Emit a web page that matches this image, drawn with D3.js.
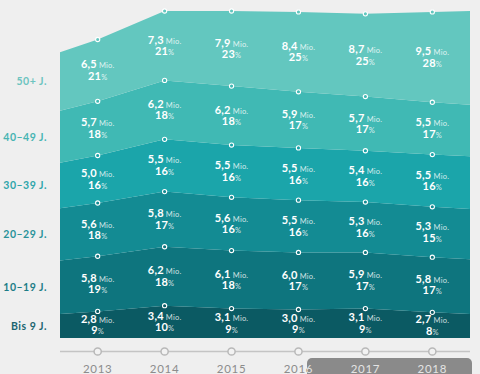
<!DOCTYPE html>
<html><head><meta charset="utf-8">
<script src="https://cdn.jsdelivr.net/npm/d3@7/dist/d3.min.js"></script>
<style>
html,body{margin:0;padding:0;background:#efefef;}
svg{display:block;font-family:Lato,"Open Sans",sans-serif;}
</style></head>
<body>
<svg id="c" width="480" height="374"></svg>
<script>
const years = [2013, 2014, 2015, 2016, 2017, 2018];
const groups = ["Bis 9 J.", "10–19 J.", "20–29 J.", "30–39 J.", "40–49 J.", "50+ J."];
const mioBis9 = [2.8, 3.4, 3.1, 3.0, 3.1, 2.7];
const mio10 = [5.8, 6.2, 6.1, 6.0, 5.9, 5.8];
const mio20 = [5.6, 5.8, 5.6, 5.5, 5.3, 5.3];
const mio30 = [5.0, 5.5, 5.5, 5.5, 5.4, 5.5];
const mio40 = [5.7, 6.2, 6.2, 5.9, 5.7, 5.5];
const mio50 = [6.5, 7.3, 7.9, 8.4, 8.7, 9.5];
const pctBis9 = [9, 10, 9, 9, 9, 8];
const pct10 = [19, 18, 18, 17, 17, 17];
const pct20 = [18, 17, 16, 16, 16, 15];
const pct30 = [16, 16, 16, 16, 16, 16];
const pct40 = [18, 18, 18, 17, 17, 17];
const pct50 = [21, 21, 23, 25, 25, 28];

const mioSeries = [mioBis9, mio10, mio20, mio30, mio40, mio50];
const pctSeries = [pctBis9, pct10, pct20, pct30, pct40, pct50];
const colors = ["#0b5a63", "#0e757e", "#138b93", "#1ba5aa", "#40b9b4", "#63c7bf"];
const labelColors = ["#1b6570", "#1c7d87", "#2a939a", "#2fa6ab", "#47b5b3", "#6cc4c0"];

const keys = groups.map((g, i) => "k" + i);
const table = years.map((yr, j) => {
  const row = {year: yr, idx: j};
  keys.forEach((k, i) => row[k] = mioSeries[i][j]);
  return row;
});
const stacked = d3.stack().keys(keys)(table);

const svg = d3.select("#c");
const edge = 0.563, ext = 0.45;
const x = d3.scaleLinear().domain([-edge, years.length - 1 + edge]).range([60, 470]);
const totals = table.map(r => d3.sum(keys, k => r[k]));
const y = d3.scaleLinear().domain([0, d3.max(totals)]).range([338, 11]);

const fmt = d3.formatLocale({decimal: ",", thousands: ".", grouping: [3], currency: ["", "€"]}).format(".1f");

const n = years.length;
const seriesPts = stacked.map(s => {
  const pts = s.map((d, j) => ({pos: j, lo: d[0], hi: d[1]}));
  const a = pts[0], b = pts[1], c = pts[n - 2], e = pts[n - 1];
  const left = {pos: -edge, lo: a.lo - ext * (b.lo - a.lo), hi: a.hi - ext * (b.hi - a.hi)};
  const right = {pos: n - 1 + edge, lo: e.lo + ext * (e.lo - c.lo), hi: e.hi + ext * (e.hi - c.hi)};
  return [left, ...pts, right];
});

const area = d3.area().x(d => x(d.pos)).y0(d => y(d.lo)).y1(d => y(d.hi));

svg.append("g").selectAll("path").data(seriesPts).join("path")
  .attr("d", area).attr("fill", (d, i) => colors[i]);

const dotG = svg.append("g");
stacked.forEach((s, i) => {
  dotG.selectAll(null).data(s).join("circle")
    .attr("cx", (d, j) => x(j)).attr("cy", d => y(d[1]))
    .attr("r", 2.1).attr("fill", colors[i]).attr("stroke", "#fff").attr("stroke-width", 1.1);
});

const labG = svg.append("g").attr("fill", "#fff").attr("text-anchor", "middle");
stacked.forEach((s, i) => {
  s.forEach((d, j) => {
    const m = y((d[0] + d[1]) / 2);
    const t1 = labG.append("text").attr("x", x(j)).attr("y", m - 2).attr("letter-spacing", 0.2);
    t1.append("tspan").attr("font-weight", 700).attr("font-size", 11).text(fmt(mioSeries[i][j]));
    t1.append("tspan").attr("font-size", 7.5).attr("fill-opacity", 0.8).text(" Mio.");
    const t2 = labG.append("text").attr("x", x(j)).attr("y", m + 9.5).attr("letter-spacing", 0.2);
    t2.append("tspan").attr("font-weight", 700).attr("font-size", 11).text(pctSeries[i][j]);
    t2.append("tspan").attr("font-size", 7.5).attr("fill-opacity", 0.8).text("%");
  });
});

svg.append("g").selectAll("text").data(seriesPts).join("text")
  .attr("x", 47).attr("y", d => y((d[0].lo + d[0].hi) / 2) + 3.8)
  .attr("text-anchor", "end").attr("font-size", 10.5).attr("font-weight", 700)
  .attr("letter-spacing", 0.5)
  .attr("fill", (d, i) => labelColors[i])
  .text((d, i) => groups[i]);

const axY = 351.5;
svg.append("line").attr("x1", x(-edge)).attr("x2", x(n - 1 + edge))
  .attr("y1", axY).attr("y2", axY).attr("stroke", "#c4c4c4").attr("stroke-width", 1.5);
svg.append("g").selectAll("circle").data(years).join("circle")
  .attr("cx", (d, j) => x(j)).attr("cy", axY).attr("r", 3.6)
  .attr("fill", "#f2f2f2").attr("stroke", "#b8b8b8").attr("stroke-width", 1.5);

function yearLabels(g, col) {
  g.selectAll("text").data(years).join("text")
    .attr("x", (d, j) => x(j)).attr("y", 373)
    .attr("text-anchor", "middle").attr("font-size", 11.5).attr("letter-spacing", 0.7)
    .attr("fill", col).text(d => d);
}
yearLabels(svg.append("g"), "#8c8c8c");

const box = {x: 307, y: 358, w: 165, h: 26};
svg.append("rect").attr("x", box.x).attr("y", box.y).attr("width", box.w).attr("height", box.h)
  .attr("rx", 5).attr("fill", "#8a8a8a");
svg.append("clipPath").attr("id", "bx").append("rect")
  .attr("x", box.x).attr("y", box.y).attr("width", box.w).attr("height", box.h).attr("rx", 5);
yearLabels(svg.append("g").attr("clip-path", "url(#bx)"), "#e4e4e4");
</script>
</body></html>
